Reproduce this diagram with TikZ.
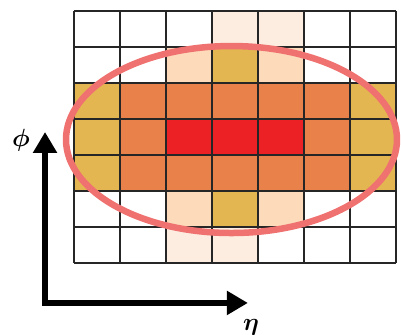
\documentclass[tikz,border=0pt]{standalone}
\usepackage{amsmath}
\usepackage{xcolor}
\usetikzlibrary{arrows.meta}
\definecolor{palecell}{HTML}{FDEDE0}
\definecolor{peachcell}{HTML}{FCDABA}
\definecolor{goldcell}{HTML}{E4B651}
\definecolor{orangecell}{HTML}{E8814A}
\definecolor{redcell}{HTML}{EC2126}
\definecolor{ringcol}{HTML}{EF7170}

\begin{document}
\begin{tikzpicture}[x=46pt,y=36pt,font=\fontsize{25}{29}\selectfont]
  \useasboundingbox (-1.609,-2) rectangle (7.109,7.306);
  % cell energies
  \foreach \i/\j in {3/6,4/6,2/0,3/0}{\fill[palecell] (\i,\j) rectangle ++(1,1);}
  \foreach \i/\j in {2/5,4/5,2/1,4/1}{\fill[peachcell] (\i,\j) rectangle ++(1,1);}
  \foreach \i/\j in {3/5,3/1,0/4,6/4,0/3,6/3,0/2,6/2}{\fill[goldcell] (\i,\j) rectangle ++(1,1);}
  \foreach \i in {1,...,5}{\fill[orangecell] (\i,4) rectangle ++(1,1); \fill[orangecell] (\i,2) rectangle ++(1,1);}
  \foreach \i in {1,5}{\fill[orangecell] (\i,3) rectangle ++(1,1);}
  \foreach \i in {2,3,4}{\fill[redcell] (\i,3) rectangle ++(1,1);}
  \foreach \i in {0,...,7}{\draw[line width=1.2pt,black!85] (\i,0) -- (\i,7) (0,\i) -- (7,\i);}
  % cluster
  \draw[ringcol,line width=6.5pt] (3.424,3.43) ellipse [x radius=165.5pt,y radius=93.5pt];
  % axes
  \coordinate (phitip) at (-0.63,3.64);
  \coordinate (etatip) at (3.78,-1.11);
  \draw[line width=5.5pt,miter limit=4,{Triangle[length=21pt,width=23pt]}-{Triangle[length=21pt,width=23pt]}] (phitip) |- (etatip);
  \node (phi) at (-1.15,3.42) {$\boldsymbol{\phi}$};
  \node (eta) at (3.85,-1.8) {$\boldsymbol{\eta}$};
\end{tikzpicture}
\end{document}
